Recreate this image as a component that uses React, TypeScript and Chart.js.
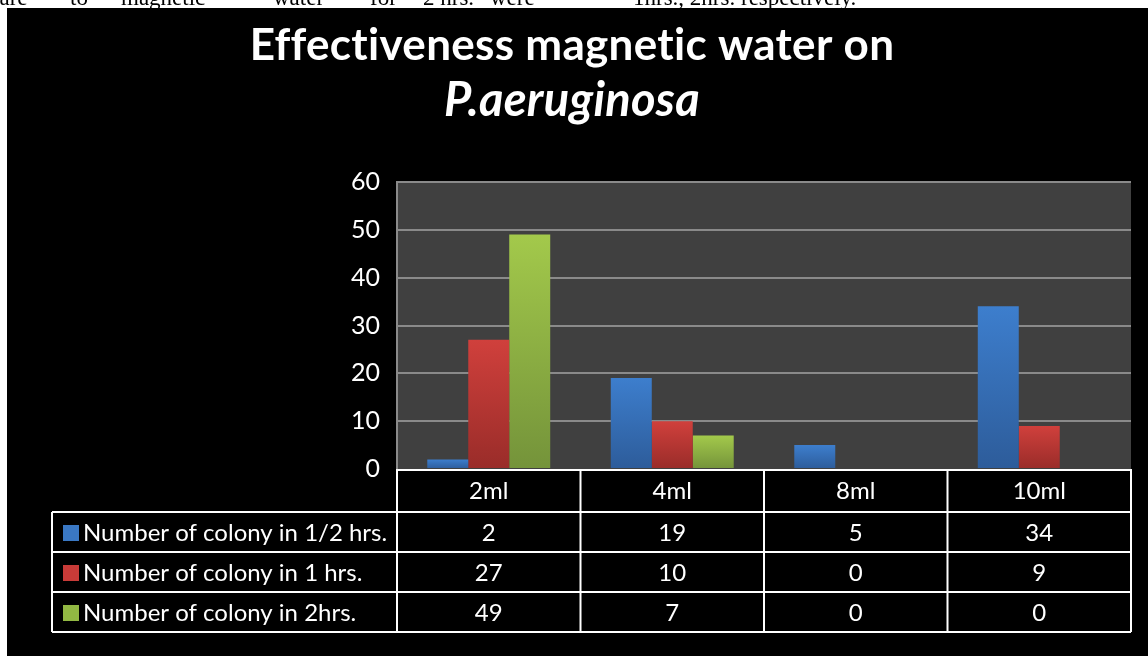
import React, { useEffect, useRef } from "react";
import { Chart, registerables } from "chart.js";

Chart.register(...registerables);

const categories = ["2ml", "4ml", "8ml", "10ml"];
const seriesLabels = [
  "Number of colony in 1/2 hrs.",
  "Number of colony in 1 hrs.",
  "Number of colony in 2hrs.",
];
const halfHour = [2, 19, 5, 34];
const oneHour = [27, 10, 0, 9];
const twoHours = [49, 7, 0, 0];
const seriesValues = [halfHour, oneHour, twoHours];
const titleLine1 = "Effectiveness magnetic water on";
const titleLine2 = "P.aeruginosa";
const topWords: [string, number][] = [
  ["pare", -12],
  ["to", 70],
  ["magnetic", 121],
  ["water", 273],
  ["for", 370],
  ["2 hrs.", 423],
  ["were", 490],
  ["1hrs., 2hrs. respectively.", 633],
];

const topColors = ["#3d7ecd", "#d0403c", "#a3c94b"];
const bottomColors = ["#2d5c9a", "#992c29", "#74933a"];
const legendColors = ["#3a78c4", "#c83b38", "#92b843"];

const FONT = "Lato, 'Open Sans', sans-serif";

function gradient(i: number) {
  return (ctx: any) => {
    const chart = ctx.chart;
    if (!chart.chartArea || ctx.type !== "data") return topColors[i];
    const ys = chart.scales.y;
    const v = ctx.raw as number;
    const y = ys.getPixelForValue(v);
    const base = ys.getPixelForValue(0);
    if (base - y < 1) return topColors[i];
    const g = chart.ctx.createLinearGradient(0, y, 0, base);
    g.addColorStop(0, topColors[i]);
    g.addColorStop(1, bottomColors[i]);
    return g;
  };
}

const framePlugin = {
  id: "frame",
  beforeDraw(chart: any) {
    const c = chart.ctx;
    c.save();
    c.fillStyle = "#ffffff";
    c.fillRect(0, 0, chart.width, chart.height);
    c.fillStyle = "#000000";
    c.font = "23px 'Liberation Serif', 'DejaVu Serif', serif";
    c.textBaseline = "alphabetic";
    c.textAlign = "left";
    topWords.forEach(([w, x]) => c.fillText(w, x, 5));
    c.fillStyle = "#000000";
    c.fillRect(7, 8, chart.width - 7, chart.height - 8);
    const a = chart.chartArea;
    c.fillStyle = "#404040";
    c.fillRect(a.left, a.top, a.right - a.left, a.bottom - a.top);
    c.restore();
  },
  afterDraw(chart: any) {
    const c = chart.ctx;
    const a = chart.chartArea;
    const xs = chart.scales.x;
    c.save();
    // title
    c.fillStyle = "#ffffff";
    c.textAlign = "center";
    c.textBaseline = "alphabetic";
    try {
      (c as any).letterSpacing = "0.3px";
    } catch (e) {}
    c.font = `bold 44px ${FONT}`;
    c.fillText(titleLine1, 572, 60);
    c.font = `italic bold 47px ${FONT}`;
    c.fillText(titleLine2, 572, 116);
    try {
      (c as any).letterSpacing = "0px";
    } catch (e) {}

    // table
    const n = categories.length;
    const centers = categories.map((_, i) => xs.getPixelForValue(i));
    const half = n > 1 ? (centers[1] - centers[0]) / 2 : (a.right - a.left) / 2;
    const edges = centers.map((cx) => cx - half);
    edges.push(centers[n - 1] + half);
    const top = a.bottom;
    const headerH = 43;
    const rowH = 40;
    const legendLeft = 52;
    const rowsTop = top + headerH;
    const bottom = rowsTop + rowH * seriesLabels.length;

    c.strokeStyle = "#ffffff";
    c.lineWidth = 2;
    c.beginPath();
    c.moveTo(edges[0], top + 1);
    c.lineTo(edges[n], top + 1);
    for (let r = 0; r <= seriesLabels.length; r++) {
      const y = rowsTop + r * rowH;
      c.moveTo(legendLeft, y);
      c.lineTo(edges[n], y);
    }
    edges.forEach((x) => {
      c.moveTo(x, top);
      c.lineTo(x, bottom);
    });
    c.moveTo(legendLeft, rowsTop);
    c.lineTo(legendLeft, bottom);
    c.stroke();

    c.fillStyle = "#ffffff";
    c.textAlign = "center";
    c.textBaseline = "middle";
    c.font = `24px ${FONT}`;
    categories.forEach((cat, i) => c.fillText(cat, centers[i], top + headerH / 2 + 1));
    seriesValues.forEach((vals, r) => {
      const cy = rowsTop + r * rowH + rowH / 2 + 1;
      vals.forEach((v, i) => c.fillText(String(v), centers[i], cy));
      c.fillStyle = legendColors[r];
      c.fillRect(63, cy - 8, 16, 16);
      c.fillStyle = "#ffffff";
      c.textAlign = "left";
      c.fillText(seriesLabels[r], 83, cy);
      c.textAlign = "center";
    });
    c.restore();
  },
};

export default function App() {
  const ref = useRef<HTMLCanvasElement>(null);
  useEffect(() => {
    if (!ref.current) return;
    const chart = new Chart(ref.current, {
      type: "bar",
      data: {
        labels: categories,
        datasets: seriesValues.map((vals, i) => ({
          label: seriesLabels[i],
          data: vals,
          backgroundColor: gradient(i),
          borderWidth: 0,
          categoryPercentage: 0.67,
          barPercentage: 1,
        })),
      },
      options: {
        animation: false,
        responsive: false,
        maintainAspectRatio: false,
        events: [],
        layout: { padding: { top: 182, right: 17, bottom: 187, left: 0 } },
        plugins: {
          legend: { display: false },
          title: { display: false },
          tooltip: { enabled: false },
        },
        scales: {
          x: { display: false, offset: true },
          y: {
            min: 0,
            max: 60,
            afterFit: (s: any) => {
              s.width = 397;
            },
            ticks: {
              stepSize: 10,
              color: "#ffffff",
              font: { family: FONT, size: 25 },
              padding: 17,
            },
            grid: {
              drawTicks: false,
              color: (ctx: any) => (ctx.tick && ctx.tick.value === 0 ? "rgba(0,0,0,0)" : "#8a8a8a"),
              lineWidth: 2,
            },
            border: { display: true, color: "#8a8a8a", width: 2 },
          },
        },
      },
      plugins: [framePlugin],
    });
    return () => chart.destroy();
  }, []);
  return (
    <div style={{ position: "fixed", left: 0, top: 0, width: 1148, height: 656 }}>
      <canvas ref={ref} width={1148} height={656} style={{ display: "block" }} />
    </div>
  );
}
